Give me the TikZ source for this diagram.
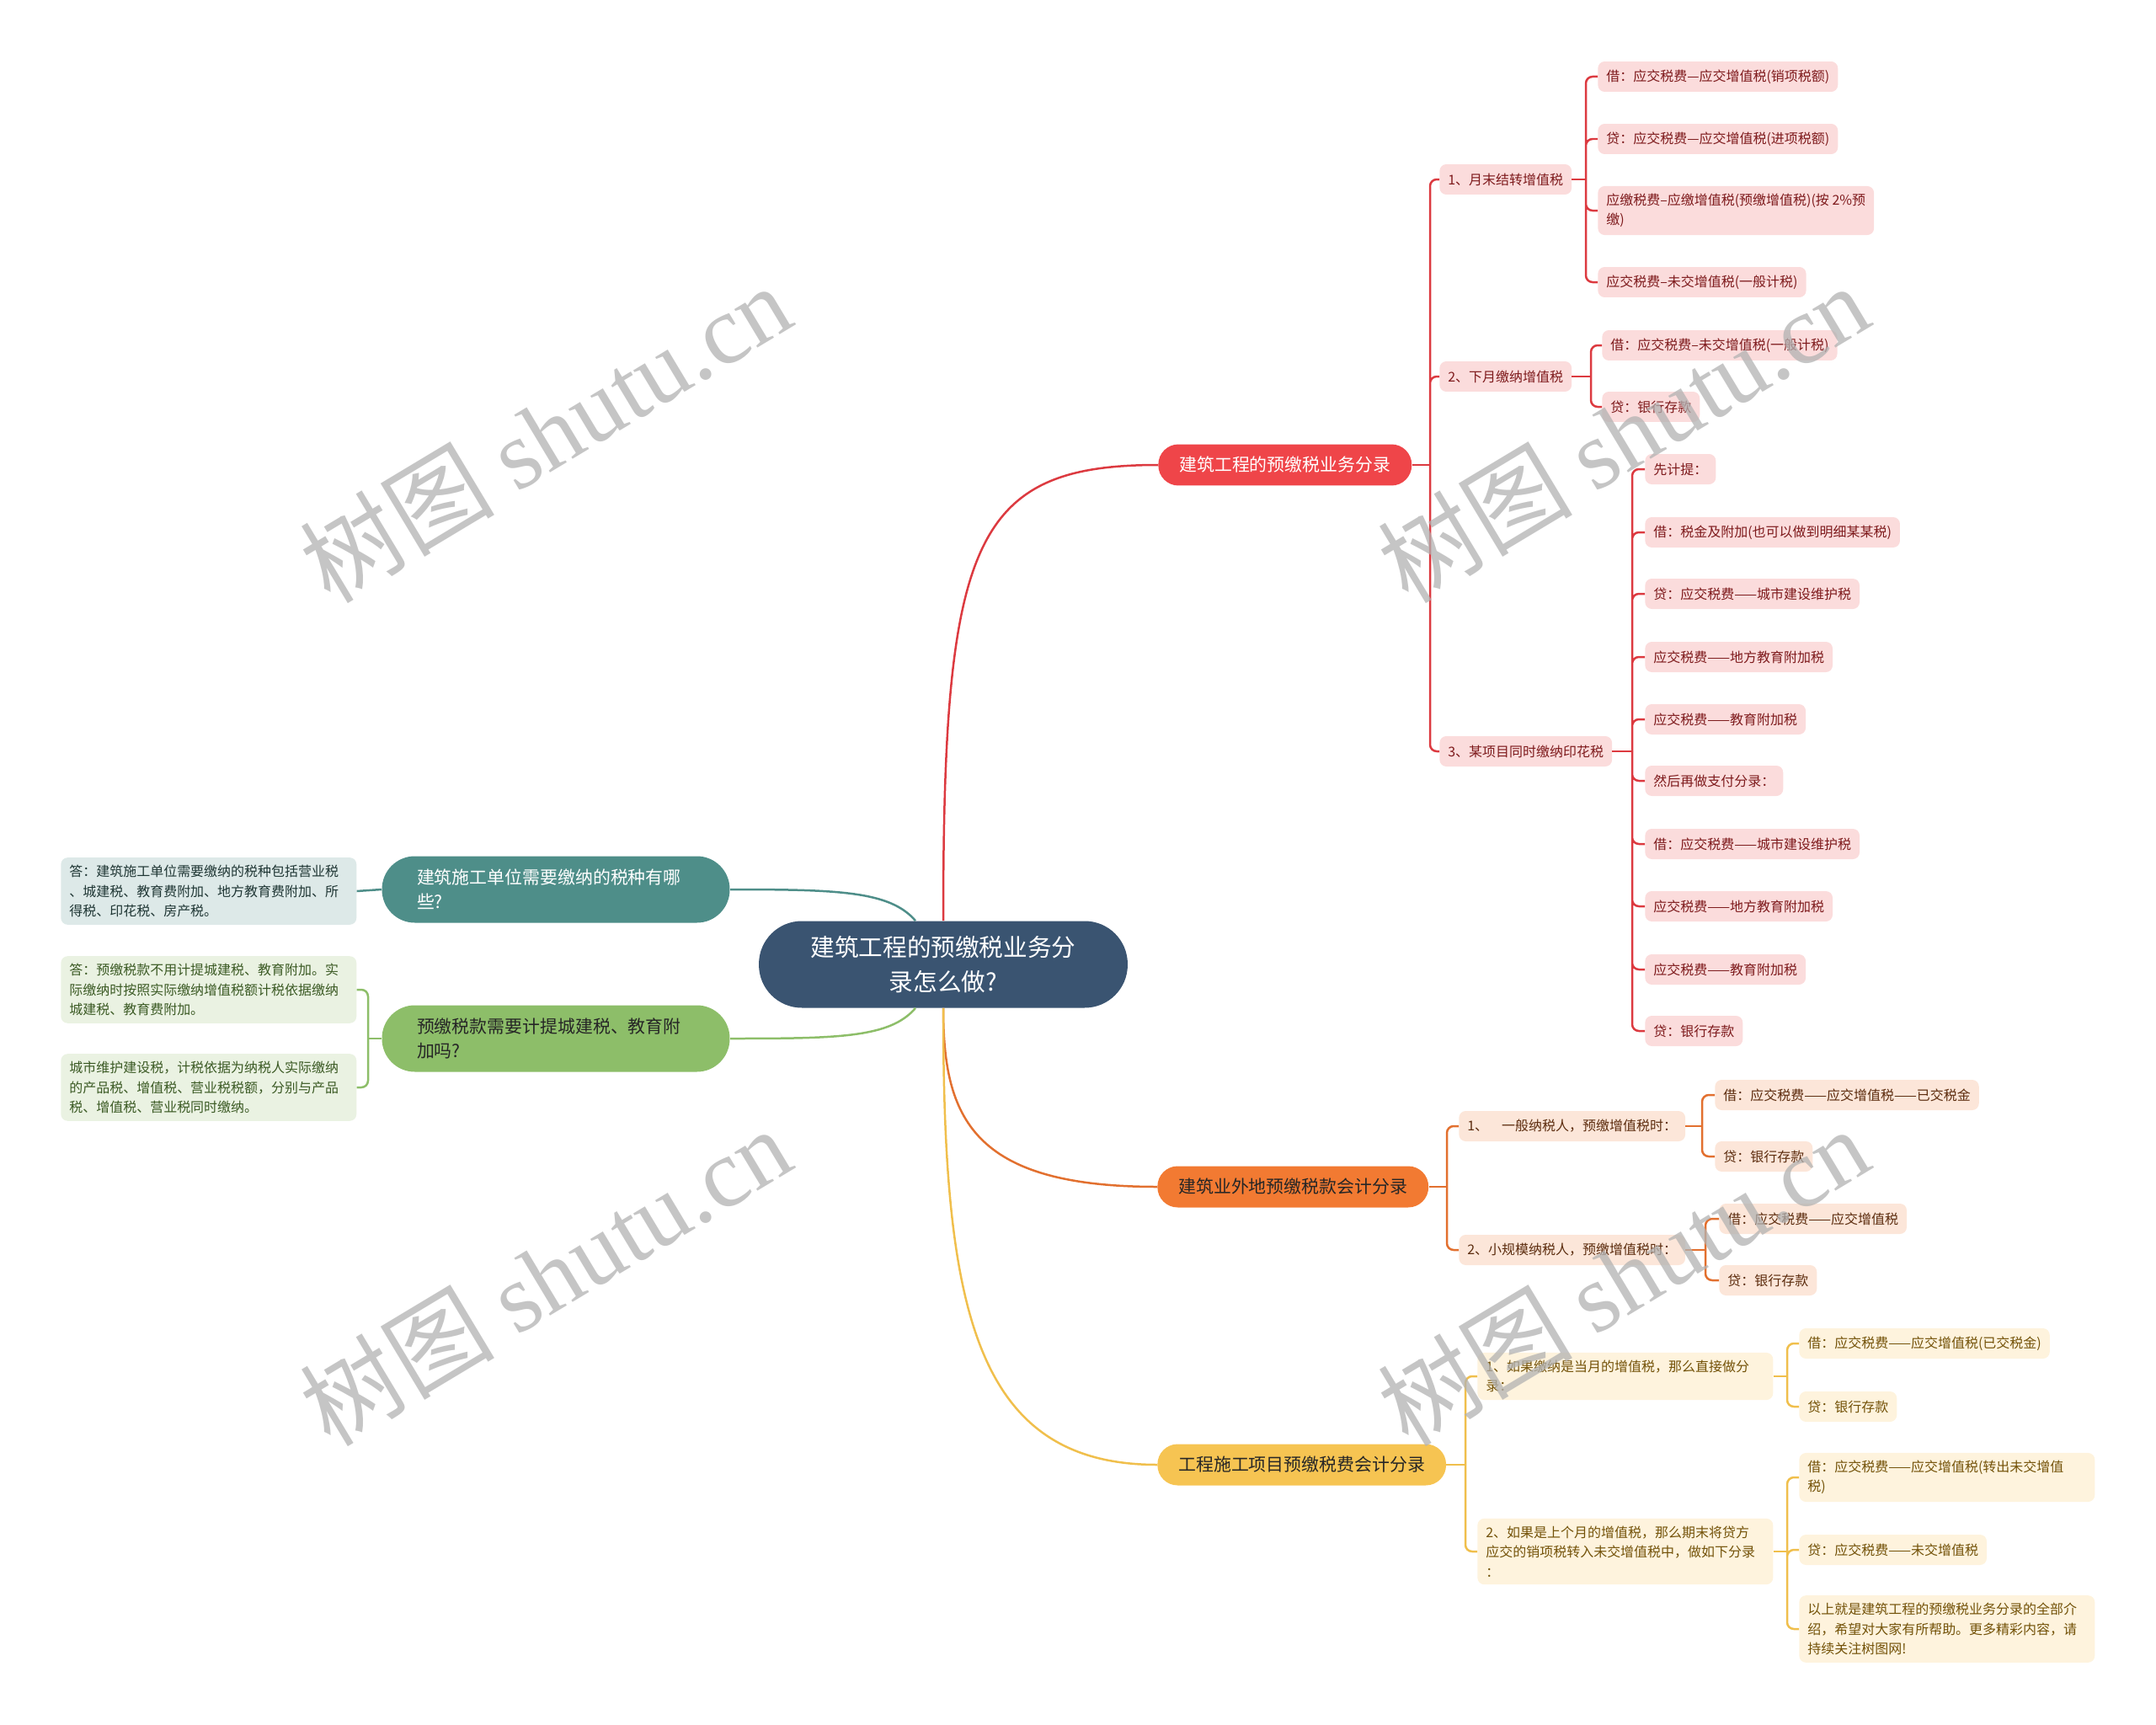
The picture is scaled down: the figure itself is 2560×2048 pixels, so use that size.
\documentclass[tikz,border=0pt]{standalone}
\usepackage{fontspec}
\setmainfont{Noto Sans CJK SC}
\newfontfamily\marcafont{Liberation Serif}
\usetikzlibrary{positioning, calc}
\definecolor{raizAzul}{HTML}{3A5471}
\definecolor{rojo}{HTML}{EF4549}
\definecolor{rojoLinea}{HTML}{DC3A40}
\definecolor{rojoHoja}{HTML}{FBDCDC}
\definecolor{rojoTexto}{HTML}{7E1A1C}
\definecolor{naranja}{HTML}{F27A32}
\definecolor{naranjaLinea}{HTML}{E2702F}
\definecolor{naranjaHoja}{HTML}{FCE6D9}
\definecolor{naranjaTexto}{HTML}{5C2C0E}
\definecolor{amarillo}{HTML}{F6C452}
\definecolor{amarilloLinea}{HTML}{F0BF4C}
\definecolor{amarilloHoja}{HTML}{FEF3DD}
\definecolor{amarilloTexto}{HTML}{735208}
\definecolor{verdeAzul}{HTML}{4E8E89}
\definecolor{verdeAzulHoja}{HTML}{DDE9E8}
\definecolor{verdeAzulTexto}{HTML}{1F3634}
\definecolor{verde}{HTML}{8DBE69}
\definecolor{verdeHoja}{HTML}{EAF2E2}
\definecolor{verdeTexto}{HTML}{3B5A24}

\begin{document}
\begin{tikzpicture}[x=0.02cm, y=-0.02cm,
        raiz/.style={fill=raizAzul, text=white, rounded corners=1.02cm, minimum width=8.76cm, minimum height=2.06cm, align=center, font=\fontsize{16.3}{23}\selectfont},
        rama/.style={rounded corners=0.48cm, minimum height=0.98cm, inner xsep=0.5cm, anchor=west, font=\fontsize{11.9}{16}\selectfont},
        pregunta/.style={rounded corners=0.78cm, minimum height=1.58cm, text width=6.6cm, inner xsep=0.83cm, align=left, font=\fontsize{11.9}{16.5}\selectfont},
        hoja/.style={rounded corners=0.16cm, minimum height=0.72cm, inner xsep=0.2cm, inner ysep=0.18cm, align=left, anchor=west, font=\fontsize{9.1}{13.3}\selectfont},
        larga/.style={text width=6.62cm},
        hr/.style={hoja, fill=rojoHoja, text=rojoTexto},
        hn/.style={hoja, fill=naranjaHoja, text=naranjaTexto},
        ha/.style={hoja, fill=amarilloHoja, text=amarilloTexto},
        linea/.style={line width=0.05cm, rounded corners=0.16cm},
        marca/.style={text=black!30, opacity=0.75, rotate=31, font=\fontsize{66}{66}\selectfont}]
    \useasboundingbox (0,0) rectangle (2560,2048);

    % centro
    \node[raiz] (raiz) at (1120,1145) {建筑工程的预缴税业务分\\录怎么做?};

    % rama roja
    \node[rama, fill=rojo, text=white] (r) at (1375,552) {建筑工程的预缴税业务分录};
    \node[hr] (r1) at (1709,213) {1、月末结转增值税};
    \node[hr] (r2) at (1709,447) {2、下月缴纳增值税};
    \node[hr] (r3) at (1709,892) {3、某项目同时缴纳印花税};
    \node[hr] (r1a) at (1897,91) {借：应交税费—应交增值税(销项税额)};
    \node[hr] (r1b) at (1897,165) {贷：应交税费—应交增值税(进项税额)};
    \node[hr] (r1c) at (1897,250) {应缴税费–应缴增值税(预缴增值税)(按 2\%预\\缴)};
    \node[hr] (r1d) at (1897,335) {应交税费–未交增值税(一般计税)};
    \node[hr] (r2a) at (1902,410) {借：应交税费–未交增值税(一般计税)};
    \node[hr] (r2b) at (1902,483) {贷：银行存款};
    \node[hr] (r3a) at (1953,557) {先计提：};
    \node[hr] (r3b) at (1953,632) {借：税金及附加(也可以做到明细某某税)};
    \node[hr] (r3c) at (1953,705) {贷：应交税费——城市建设维护税};
    \node[hr] (r3d) at (1953,780) {应交税费——地方教育附加税};
    \node[hr] (r3e) at (1953,854) {应交税费——教育附加税};
    \node[hr] (r3f) at (1953,927) {然后再做支付分录：};
    \node[hr] (r3g) at (1953,1002) {借：应交税费——城市建设维护税};
    \node[hr] (r3h) at (1953,1076) {应交税费——地方教育附加税};
    \node[hr] (r3i) at (1953,1151) {应交税费——教育附加税};
    \node[hr] (r3j) at (1953,1224) {贷：银行存款};

    % rama naranja
    \node[rama, fill=naranja, text=black!85] (n) at (1374,1409) {建筑业外地预缴税款会计分录};
    \node[hn] (n1) at (1732,1337) {1、\hspace{1em}一般纳税人，预缴增值税时：};
    \node[hn] (n2) at (1732,1484) {2、小规模纳税人，预缴增值税时：};
    \node[hn] (n1a) at (2036,1300) {借：应交税费——应交增值税——已交税金};
    \node[hn] (n1b) at (2036,1373) {贷：银行存款};
    \node[hn] (n2a) at (2041,1447) {借：应交税费——应交增值税};
    \node[hn] (n2b) at (2041,1520) {贷：银行存款};

    % rama amarilla
    \node[rama, fill=amarillo, text=black!85] (a) at (1374,1739) {工程施工项目预缴税费会计分录};
    \node[ha, larga] (a1) at (1754,1634) {1、如果缴纳是当月的增值税，那么直接做分\\录：};
    \node[ha, larga] (a2) at (1754,1842) {2、如果是上个月的增值税，那么期末将贷方\\应交的销项税转入未交增值税中，做如下分录\\：};
    \node[ha] (a1a) at (2136,1595) {借：应交税费——应交增值税(已交税金)};
    \node[ha] (a1b) at (2136,1670) {贷：银行存款};
    \node[ha, larga] (a2a) at (2136,1754) {借：应交税费——应交增值税(转出未交增值\\税)};
    \node[ha] (a2b) at (2136,1840) {贷：应交税费——未交增值税};
    \node[ha, larga] (a2c) at (2136,1934) {以上就是建筑工程的预缴税业务分录的全部介\\绍，希望对大家有所帮助。更多精彩内容，请\\持续关注树图网!};

    % ramas izquierdas
    \node[pregunta, fill=verdeAzul, text=white] (t) at (660,1056) {建筑施工单位需要缴纳的税种有哪\\些?};
    \node[hoja, larga, fill=verdeAzulHoja, text=verdeAzulTexto] (t1) at (72,1058) {答：建筑施工单位需要缴纳的税种包括营业税\\、城建税、教育费附加、地方教育费附加、所\\得税、印花税、房产税。};
    \node[pregunta, fill=verde, text=black!85] (g) at (660,1233) {预缴税款需要计提城建税、教育附\\加吗?};
    \node[hoja, larga, fill=verdeHoja, text=verdeTexto] (g1) at (72,1175) {答：预缴税款不用计提城建税、教育附加。实\\际缴纳时按照实际缴纳增值税额计税依据缴纳\\城建税、教育费附加。};
    \node[hoja, larga, fill=verdeHoja, text=verdeTexto] (g2) at (72,1291) {城市维护建设税，计税依据为纳税人实际缴纳\\的产品税、增值税、营业税税额，分别与产品\\税、增值税、营业税同时缴纳。};

    % uniones
    \coordinate (ur) at (1698,552);
    \coordinate (ur1) at (1883,213);
    \coordinate (ur2) at (1889,447);
    \coordinate (ur3) at (1938,892);
    \coordinate (un) at (1718,1409);
    \coordinate (un1) at (2021,1337);
    \coordinate (un2) at (2025,1484);
    \coordinate (ua) at (1740,1739);
    \coordinate (ua1) at (2122,1634);
    \coordinate (ua2) at (2122,1842);
    \coordinate (ug) at (437,1233);

    % conectores desde el centro
    \draw[linea, draw=rojoLinea] (raiz.north) .. controls +(0,-450) and +(-220,0) .. (r.west);
    \draw[linea, draw=naranjaLinea] (raiz.south) .. controls +(0,130) and +(-220,0) .. (n.west);
    \draw[linea, draw=amarilloLinea] (raiz.south) .. controls +(0,350) and +(-220,0) .. (a.west);
    \draw[linea, draw=verdeAzul] ([xshift=-0.66cm]raiz.north) .. controls +(-30,-35) and +(130,0) .. (t.east);
    \draw[linea, draw=verde] ([xshift=-0.66cm]raiz.south) .. controls +(-30,35) and +(130,0) .. (g.east);

    % rojo
    \draw[linea, draw=rojoLinea] (r.east) -- (ur);
    \draw[linea, draw=rojoLinea] (ur) |- (r1.west) (ur) |- (r2.west) (ur) |- (r3.west);
    \draw[linea, draw=rojoLinea] (r1.east) -- (ur1);
    \draw[linea, draw=rojoLinea] (ur1) |- (r1a.west) (ur1) |- (r1b.west) (ur1) |- (r1c.west) (ur1) |- (r1d.west);
    \draw[linea, draw=rojoLinea] (r2.east) -- (ur2);
    \draw[linea, draw=rojoLinea] (ur2) |- (r2a.west) (ur2) |- (r2b.west);
    \draw[linea, draw=rojoLinea] (r3.east) -- (ur3);
    \draw[linea, draw=rojoLinea] (ur3) |- (r3a.west) (ur3) |- (r3b.west) (ur3) |- (r3c.west) (ur3) |- (r3d.west) (ur3) |- (r3e.west);
    \draw[linea, draw=rojoLinea] (ur3) |- (r3f.west) (ur3) |- (r3g.west) (ur3) |- (r3h.west) (ur3) |- (r3i.west) (ur3) |- (r3j.west);

    % naranja
    \draw[linea, draw=naranjaLinea] (n.east) -- (un);
    \draw[linea, draw=naranjaLinea] (un) |- (n1.west) (un) |- (n2.west);
    \draw[linea, draw=naranjaLinea] (n1.east) -- (un1);
    \draw[linea, draw=naranjaLinea] (un1) |- (n1a.west) (un1) |- (n1b.west);
    \draw[linea, draw=naranjaLinea] (n2.east) -- (un2);
    \draw[linea, draw=naranjaLinea] (un2) |- (n2a.west) (un2) |- (n2b.west);

    % amarillo
    \draw[linea, draw=amarilloLinea] (a.east) -- (ua);
    \draw[linea, draw=amarilloLinea] (ua) |- (a1.west) (ua) |- (a2.west);
    \draw[linea, draw=amarilloLinea] (a1.east) -- (ua1);
    \draw[linea, draw=amarilloLinea] (ua1) |- (a1a.west) (ua1) |- (a1b.west);
    \draw[linea, draw=amarilloLinea] (a2.east) -- (ua2);
    \draw[linea, draw=amarilloLinea] (ua2) |- (a2a.west) (ua2) |- (a2b.west) (ua2) |- (a2c.west);

    % izquierda
    \draw[linea, draw=verdeAzul] (t.west) -- (t1.east);
    \draw[linea, draw=verde] (g.west) -- (ug);
    \draw[linea, draw=verde] (ug) |- (g1.east) (ug) |- (g2.east);

    % marcas de agua
    \node[marca] (m1) at (647,514) {树图 {\marcafont shutu.cn}};
    \node[marca] (m2) at (1927,514) {树图 {\marcafont shutu.cn}};
    \node[marca] (m3) at (647,1515) {树图 {\marcafont shutu.cn}};
    \node[marca] (m4) at (1927,1515) {树图 {\marcafont shutu.cn}};
\end{tikzpicture}
\end{document}
